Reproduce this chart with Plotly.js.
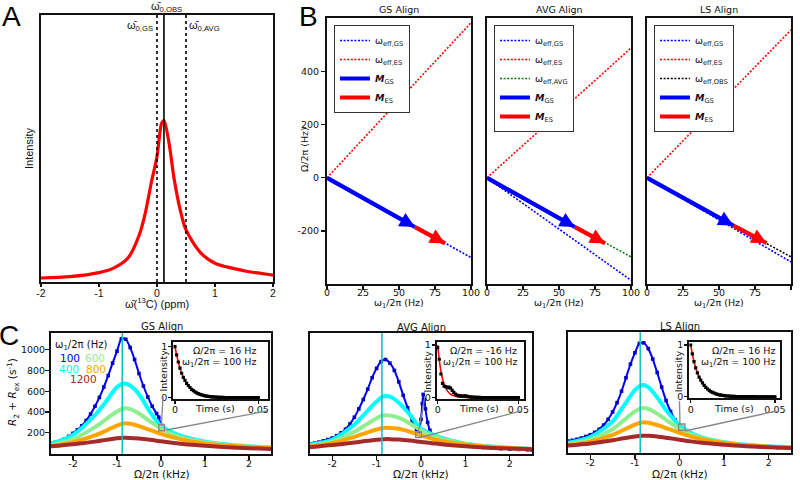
<!DOCTYPE html>
<html><head><meta charset="utf-8">
<script src="https://cdn.plot.ly/plotly-3.0.1.min.js"></script>
<style>html,body{margin:0;padding:0;background:#fff}#chart{width:800px;height:480px}</style>
</head><body><div id="chart"></div>
<script>
// ---------- Panel A : observed line shape ----------
const aShift = [-2,-1.5,-1,-0.75,-0.5,-0.3,-0.2,-0.1,0,0.05,0.08,0.12,0.2,0.3,0.4,0.5,0.75,1,1.5,2];
const aIntensity = [0.015,0.02,0.035,0.052,0.09,0.18,0.26,0.37,0.47,0.56,0.595,0.605,0.53,0.38,0.27,0.195,0.11,0.07,0.042,0.026];
const aRefPositions = [0, 0.12, 0.5];          // ω0,GS  ω0,OBS  ω0,AVG
const aRefDash = ['dot','solid','dot'];
const aTicks = [-2,-1,0,1,2];

// ---------- Panel B : effective fields ----------
const omega1Ends = [0, 100];
const gsEffGS = [0, -300], gsEffES = [0, 584];
const avgEffGS = [0, -386], avgEffES = [0, 489], avgEffAVG = [0, -298];
const lsEffGS = [0, -317], lsEffES = [0, 557], lsEffOBS = [0, -298];
const gsMgsX = [0, 61], gsMgsY = [0, -185], gsMesX = [61, 82], gsMesY = [-185, -247];
const avgMgsX = [0, 61], avgMgsY = [0, -185], avgMesX = [61, 82], avgMesY = [-185, -247];
const lsMgsX = [0, 60], lsMgsY = [0, -180], lsMesX = [60, 83], lsMesY = [-180, -246];
const bXTicks = [0,25,50,75,100], bYTicks = [-200,0,200,400];

// ---------- Panel C : R2 + Rex profiles ----------
const cOffset = [-2.5,-2,-1.5,-1.25,-1,-0.85,-0.7,-0.5,-0.25,0,0.25,0.5,1,1.5,2,2.5];
const gs400 = [95,180,370,500,640,674,655,570,400,265,205,165,115,88,70,58];
const gs600 = [80,140,255,330,405,434,428,385,310,240,185,150,108,85,68,57];
const gs800 = [72,110,175,220,270,290,287,265,228,190,158,132,98,78,64,54];
const gs1200 = [70,90,115,132,147,152,151,145,133,118,104,92,75,62,52,45];
const avg400 = [85,135,280,390,500,550,548,490,375,240,185,145,95,70,55,45];
const avg600 = [75,115,210,275,340,368,366,345,290,225,170,135,92,68,54,45];
const avg800 = [70,100,160,197,232,246,247,238,210,175,143,118,88,66,53,44];
const avg1200 = [62,82,106,120,132,138,139,135,125,112,100,88,70,57,48,42];
const ls400 = [95,150,300,450,600,649,630,530,380,265,190,145,100,75,60,50];
const ls600 = [82,125,225,310,395,427,420,375,300,230,175,140,98,73,58,48];
const ls800 = [72,105,170,220,270,290,287,265,228,190,155,128,93,70,57,47];
const ls1200 = [68,88,118,138,155,162,161,155,140,124,108,95,75,61,51,44];

const gsBlueX = [-2.5,-2.4,-2.3,-2.2,-2.1,-2.0,-1.9,-1.8,-1.7,-1.6,-1.5,-1.4,-1.3,-1.2,-1.1,-1.0,-0.9,-0.8,-0.7,-0.6,-0.5,-0.4,-0.3,-0.2,-0.1,-0.05,0,0.05,0.1,0.2,0.3,0.4,0.5,0.6,0.7,0.8,0.9,1.0,1.2,1.4,1.6,1.8,2.0,2.2,2.4,2.5];
const gsBlueY = [98,108,120,140,165,195,228,268,318,380,455,540,640,750,870,985,1105,1100,1020,905,770,650,545,455,385,350,270,240,222,195,175,160,148,137,128,120,113,107,96,87,79,72,66,60,55,53];
const avgBlueX = [-2.5,-2.4,-2.3,-2.2,-2.1,-2.0,-1.9,-1.8,-1.7,-1.6,-1.5,-1.4,-1.3,-1.2,-1.1,-1.0,-0.9,-0.8,-0.7,-0.6,-0.5,-0.4,-0.3,-0.2,-0.15,-0.1,-0.05,0,0.03,0.05,0.08,0.1,0.15,0.2,0.3,0.4,0.5,0.6,0.7,0.8,0.9,1.0,1.2,1.4,1.6,1.8,2.0,2.2,2.4,2.5];
const avgBlueY = [91,100,110,122,135,150,172,200,235,285,350,430,520,620,730,820,885,905,870,800,690,560,440,320,270,230,215,330,480,569,520,430,300,225,165,130,112,100,92,85,79,74,66,59,53,48,44,40,37,35];
const lsBlueX = [-2.5,-2.4,-2.3,-2.2,-2.1,-2.0,-1.9,-1.8,-1.7,-1.6,-1.5,-1.4,-1.3,-1.2,-1.1,-1.0,-0.9,-0.8,-0.7,-0.6,-0.5,-0.4,-0.3,-0.2,-0.1,0,0.1,0.2,0.3,0.4,0.5,0.6,0.7,0.8,0.9,1.0,1.2,1.4,1.6,1.8,2.0,2.2,2.4,2.5];
const lsBlueY = [110,118,128,140,155,172,195,225,265,320,390,480,590,720,850,960,1050,1055,1000,900,770,630,500,395,315,255,212,180,158,140,127,116,107,99,93,87,77,69,62,57,52,48,45,44];
const esOffset = -0.88;   // vertical cyan line (kHz)
const cXTicks = [-2,-1,0,1,2], cYTicks = [200,400,600,800,1000];
const spinLockLabels = ['100','400','600','800','1200'];
const spinLockColors = ['#0000ff','#00ffff','#90ee90','#ffa500','#a52a2a'];

// ---------- Insets : decays ----------
const insetTime = [0,0.001,0.002,0.003,0.004,0.005,0.006,0.007,0.008,0.009,0.010,0.011,0.012,0.013,0.014,0.015,0.016,0.017,0.018,0.019,0.020,0.021,0.022,0.023,0.024,0.025,0.026,0.027,0.028,0.029,0.030,0.031,0.032,0.033,0.034,0.035,0.036,0.037,0.038,0.039,0.040,0.041,0.042,0.043,0.044,0.045,0.046,0.047,0.048,0.049,0.050];
const gsDecay = [1.0,0.84,0.70,0.58,0.48,0.40,0.34,0.28,0.24,0.20,0.165,0.14,0.115,0.095,0.08,0.065,0.055,0.045,0.038,0.031,0.026,0.021,0.018,0.015,0.012,0.01,0.008,0.007,0.006,0.005,0.004,0.003,0.003,0.002,0.002,0.002,0.001,0.001,0.001,0.001,0.001,0,0,0,0,0,0,0,0,0,0];
const avgDecay = [0.95,0.73,0.45,0.27,0.22,0.21,0.19,0.20,0.18,0.14,0.10,0.07,0.05,0.04,0.035,0.03,0.03,0.035,0.03,0.02,0.015,0.012,0.01,0.008,0.006,0.005,0.004,0.003,0.003,0.002,0.002,0.001,0.001,0.001,0.001,0,0,0,0,0,0,0,0,0,0,0,0,0,0,0,0];
const lsDecay = [1.0,0.83,0.68,0.56,0.46,0.38,0.32,0.27,0.22,0.18,0.15,0.125,0.10,0.085,0.07,0.055,0.046,0.038,0.031,0.025,0.02,0.017,0.014,0.011,0.009,0.007,0.006,0.005,0.004,0.003,0.003,0.002,0.002,0.002,0.001,0.001,0.001,0.001,0.001,0,0,0,0,0,0,0,0,0,0,0,0];
const fitTime = [0,0.001,0.002,0.003,0.004,0.006,0.008,0.010,0.012,0.015,0.020,0.030,0.050];
const gsFit = [1,0.84,0.70,0.58,0.48,0.34,0.24,0.165,0.115,0.065,0.026,0.004,0];
const avgFit = [1,0.72,0.50,0.36,0.25,0.13,0.065,0.035,0.018,0.007,0.002,0,0];
const lsFit = [1,0.83,0.68,0.56,0.46,0.32,0.22,0.15,0.10,0.055,0.02,0.003,0];
const insetOffsets = ['Ω/2π = 16 Hz','Ω/2π = -16 Hz','Ω/2π = 16 Hz'];
const insetField = 'ω<sub>1</sub>/2π = 100 Hz';

// ================= build =================
const W = 800, H = 480;
const px = x => x / W, py = y => 1 - y / H;
const DJ = 'DejaVu Sans', LS = 'Liberation Sans, Arial, sans-serif';
const AX = {showline:true, mirror:true, linecolor:'#111', linewidth:2, ticks:'outside', ticklen:4,
  tickwidth:1.2, tickcolor:'#111', showgrid:false, zeroline:false, fixedrange:true, automargin:false,
  tickfont:{family:DJ, size:9.5, color:'#111'}};
function axis(dom, anchor, extra) { return Object.assign({}, AX, {domain:dom, anchor:anchor}, extra || {}); }
function note(text, x, y, size, extra) {
  return Object.assign({text:text, x:px(x), y:py(y), xref:'paper', yref:'paper', showarrow:false,
    xanchor:'center', yanchor:'middle', font:{family:DJ, size:size, color:'#111'}}, extra || {});
}

const traces = [];
// Panel A
traces.push({type:'scatter', mode:'lines', x:aShift, y:aIntensity, xaxis:'x', yaxis:'y',
  line:{color:'#ff0000', width:3.2, shape:'spline', smoothing:0.8}, showlegend:false});

// Panel B
const dashSty = '2px,1.6px';
function effLine(x, y, name, color, xa, ya, lg) {
  traces.push({type:'scatter', mode:'lines', x:x, y:y, xaxis:xa, yaxis:ya, name:name, legend:lg,
    line:{color:color, width:1.6, dash:dashSty}});
}
function mLine(x, y, name, color, xa, ya, lg) {
  traces.push({type:'scatter', mode:'lines', x:x, y:y, xaxis:xa, yaxis:ya, name:name, legend:lg,
    line:{color:color, width:4}});
}
const nGS = 'ω<sub>eff,GS</sub>', nES = 'ω<sub>eff,ES</sub>';
const nMGS = '<b><i>M</i></b><sub>GS</sub>', nMES = '<b><i>M</i></b><sub>ES</sub>';
effLine(omega1Ends, gsEffGS, nGS, '#0000ff', 'x2','y2','legend');
effLine(omega1Ends, gsEffES, nES, '#ff0000', 'x2','y2','legend');
mLine(gsMgsX, gsMgsY, nMGS, '#0000ff', 'x2','y2','legend');
mLine(gsMesX, gsMesY, nMES, '#ff0000', 'x2','y2','legend');
effLine(omega1Ends, avgEffGS, nGS, '#0000ff', 'x3','y3','legend2');
effLine(omega1Ends, avgEffES, nES, '#ff0000', 'x3','y3','legend2');
effLine(omega1Ends, avgEffAVG, 'ω<sub>eff,AVG</sub>', '#008000', 'x3','y3','legend2');
mLine(avgMgsX, avgMgsY, nMGS, '#0000ff', 'x3','y3','legend2');
mLine(avgMesX, avgMesY, nMES, '#ff0000', 'x3','y3','legend2');
effLine(omega1Ends, lsEffGS, nGS, '#0000ff', 'x4','y4','legend3');
effLine(omega1Ends, lsEffES, nES, '#ff0000', 'x4','y4','legend3');
effLine(omega1Ends, lsEffOBS, 'ω<sub>eff,OBS</sub>', '#000000', 'x4','y4','legend3');
mLine(lsMgsX, lsMgsY, nMGS, '#0000ff', 'x4','y4','legend3');
mLine(lsMesX, lsMesY, nMES, '#ff0000', 'x4','y4','legend3');

// Panel C
const cPanels = [
  {xa:'x5', ya:'y5', bx:gsBlueX, by:gsBlueY, rest:[gs400, gs600, gs800, gs1200]},
  {xa:'x6', ya:'y6', bx:avgBlueX, by:avgBlueY, rest:[avg400, avg600, avg800, avg1200]},
  {xa:'x7', ya:'y7', bx:lsBlueX, by:lsBlueY, rest:[ls400, ls600, ls800, ls1200]}
];
cPanels.forEach(p => {
  traces.push({type:'scatter', mode:'lines+markers', x:p.bx, y:p.by, xaxis:p.xa, yaxis:p.ya, showlegend:false,
    line:{color:spinLockColors[0], width:2, shape:'spline', smoothing:0.6},
    marker:{symbol:'square', size:3.6, color:'#0000c0'}});
  p.rest.forEach((ys, i) => {
    traces.push({type:'scatter', mode:'lines', x:cOffset, y:ys, xaxis:p.xa, yaxis:p.ya, showlegend:false,
      line:{color:spinLockColors[i+1], width:4, shape:'spline', smoothing:0.8}});
  });
});
// Insets
const insets = [
  {xa:'x8', ya:'y8', d:gsDecay, f:gsFit},
  {xa:'x9', ya:'y9', d:avgDecay, f:avgFit},
  {xa:'x10', ya:'y10', d:lsDecay, f:lsFit}
];
insets.forEach(p => {
  traces.push({type:'scatter', mode:'lines', x:fitTime, y:p.f, xaxis:p.xa, yaxis:p.ya, showlegend:false,
    line:{color:'#ff0000', width:1.6, shape:'spline', smoothing:0.5}});
  traces.push({type:'scatter', mode:'markers', x:insetTime, y:p.d, xaxis:p.xa, yaxis:p.ya, showlegend:false,
    marker:{symbol:'square', size:3.2, color:'#000'}});
});

// ---------- layout ----------
const yDomA = [py(282), py(15)], yDomB = [py(284), py(18)];
const yDomC = [py(454), py(333)], yDomC3 = [py(453), py(332)];
const noLab = {showticklabels:false, ticks:''};
const bx = {range:[0,100], tickvals:bXTicks, ticklabelstandoff:-5};
const cx = {range:[-2.5,2.5], tickvals:cXTicks, ticktext:cXTicks.map(String), ticklabelstandoff:-4};
const ix = {tickvals:[0,0.05], ticktext:['0','0.05'], ticklen:3, ticklabelstandoff:-2};
const iy = {tickvals:[0,1], ticktext:['0','1'], ticklen:3, ticklabelstandoff:-1};
const layout = {
  width:W, height:H, margin:{l:0, r:0, t:0, b:0, pad:0},
  paper_bgcolor:'#fff', plot_bgcolor:'#fff', hovermode:false,
  font:{family:DJ, color:'#111'},
  xaxis: axis([px(41), px(273)], 'y', {range:[-2,2], tickvals:aTicks, ticktext:aTicks.map(String), ticklen:3,
    ticklabelstandoff:-3, tickfont:{family:LS, size:10.5, color:'#111'}}),
  yaxis: axis(yDomA, 'x', Object.assign({range:[0,1]}, noLab)),
  xaxis2: axis([px(327), px(471)], 'y2', bx),
  yaxis2: axis(yDomB, 'x2', {range:[-400,602], tickvals:bYTicks, ticktext:bYTicks.map(String)}),
  xaxis3: axis([px(487), px(631)], 'y3', bx),
  yaxis3: axis(yDomB, 'x3', Object.assign({range:[-400,602]}, noLab)),
  xaxis4: axis([px(647), px(791)], 'y4', bx),
  yaxis4: axis(yDomB, 'x4', Object.assign({range:[-400,602]}, noLab)),
  xaxis5: axis([px(51), px(271)], 'y5', cx),
  yaxis5: axis(yDomC, 'x5', {range:[-4,1160], tickvals:cYTicks, ticklabelstandoff:-2}),
  xaxis6: axis([px(310), px(532)], 'y6', cx),
  yaxis6: axis(yDomC, 'x6', Object.assign({range:[-4,1160]}, noLab)),
  xaxis7: axis([px(568), px(791)], 'y7', cx),
  yaxis7: axis(yDomC3, 'x7', Object.assign({range:[-4,1160]}, noLab)),
  xaxis8: axis([px(173.3), px(268.3)], 'y8', Object.assign({range:[-0.001,0.056]}, ix)),
  yaxis8: axis([py(399), py(342.3)], 'x8', Object.assign({range:[-0.025,1.086]}, iy)),
  xaxis9: axis([px(436.7), px(524)], 'y9', Object.assign({range:[-0.0006,0.0535]}, ix)),
  yaxis9: axis([py(399), py(341.7)], 'x9', Object.assign({range:[-0.025,1.063]}, iy)),
  xaxis10: axis([px(689.3), px(780)], 'y10', Object.assign({range:[-0.0008,0.053]}, ix)),
  yaxis10: axis([py(398.3), py(341.7)], 'x10', Object.assign({range:[-0.03,1.064]}, iy)),
  showlegend:true
};
const legendStyle = {xanchor:'left', yanchor:'top', bgcolor:'#fff', bordercolor:'#333', borderwidth:1,
  font:{family:DJ, size:9.5, color:'#111'}, tracegroupgap:0, itemwidth:30};
layout.legend = Object.assign({x:px(334), y:py(25)}, legendStyle);
layout.legend2 = Object.assign({x:px(494), y:py(25)}, legendStyle);
layout.legend3 = Object.assign({x:px(654), y:py(25)}, legendStyle);

// shapes
const shapes = [];
aRefPositions.forEach((v, i) => shapes.push({type:'line', xref:'x', yref:'y domain', x0:v, x1:v, y0:0, y1:1,
  line:{color:'#000', width:1.6, dash:aRefDash[i]}}));
['5','6','7'].forEach(n => shapes.push({type:'line', xref:'x'+n, yref:'y'+n+' domain', x0:esOffset, x1:esOffset,
  y0:0, y1:1, line:{color:'#17bfc4', width:1.6}}));
const zoomBoxes = [
  {n:'5', x:[-0.05,0.08], y:[220,280]},
  {n:'6', x:[-0.12,0.01], y:[155,210]},
  {n:'7', x:[-0.02,0.12], y:[215,275]}
];
zoomBoxes.forEach(b => shapes.push({type:'rect', xref:'x'+b.n, yref:'y'+b.n, x0:b.x[0], x1:b.x[1], y0:b.y[0], y1:b.y[1],
  line:{color:'#888', width:1.4}}));
const connectors = [
  [161.5,424,163,397],[166.5,430,267,411],
  [418.3,432,425,396],[422.3,437,520.7,411],
  [680,425,679.5,401],[685,431,776.7,411]
];
connectors.forEach(c => shapes.push({type:'line', xref:'paper', yref:'paper', x0:px(c[0]), y0:py(c[1]), x1:px(c[2]), y1:py(c[3]),
  line:{color:'#888', width:1.3}}));
layout.shapes = shapes;

// annotations
const ann = [];
ann.push(note('A', 11, 17, 28, {font:{family:LS, size:28, color:'#000'}}));
ann.push(note('B', 308, 17, 28, {font:{family:LS, size:28, color:'#000'}}));
ann.push(note('C', 9, 335, 28, {font:{family:LS, size:28, color:'#000'}}));
const aFont = {family:LS, size:11, color:'#111'};
ann.push(note('ω\u0304<sub>0,OBS</sub>', 166, 7, 11, {font:aFont}));
ann.push(note('ω\u0304<sub>0,GS</sub>', 155, 26, 11, {font:aFont, xanchor:'right'}));
ann.push(note('ω\u0304<sub>0,AVG</sub>', 187, 26, 11, {font:aFont, xanchor:'left'}));
ann.push(note('ω\u0304(<sup>13</sup>C) (ppm)', 157, 303, 11, {font:aFont}));
ann.push(note('Intensity', 29, 148, 11, {font:aFont, textangle:-90}));
[['GS Align',399],['AVG Align',559],['LS Align',719]].forEach(t => {
  ann.push(note(t[0], t[1], 9, 9.5));
  ann.push(note('ω<sub>1</sub>/2π (Hz)', t[1], 303, 9.5));
});
ann.push(note('Ω/2π (Hz)', 304, 150, 9.5, {textangle:-90}));
[['x2','y2',gsMgsX,gsMgsY,gsMesX,gsMesY],['x3','y3',avgMgsX,avgMgsY,avgMesX,avgMesY],['x4','y4',lsMgsX,lsMgsY,lsMesX,lsMesY]].forEach(a => {
  [[a[2],a[3],'#0000ff'],[a[4],a[5],'#ff0000']].forEach(v => ann.push({
    xref:a[0], yref:a[1], axref:a[0], ayref:a[1], x:v[0][1], y:v[1][1], ax:v[0][0], ay:v[1][0],
    text:'', showarrow:true, arrowhead:2, arrowsize:0.75, arrowwidth:4, arrowcolor:v[2], standoff:0, startstandoff:0}));
});
[['GS Align',162,326],['AVG Align',421,327],['LS Align',680,326]].forEach(t => {
  ann.push(note(t[0], t[1], t[2], 10));
  ann.push(note('Ω/2π (kHz)', t[1], 474, 10.5));
});
ann.push(note('<i>R</i><sub>2</sub> + <i>R</i><sub>ex</sub> (s<sup>-1</sup>)', 13, 392, 10.5, {textangle:-90}));
ann.push(note('ω<sub>1</sub>/2π (Hz)', 81, 345, 10));
const legPos = [[70,358],[69,369],[95,358],[95.5,369],[83.5,379]];
spinLockLabels.forEach((s, i) => ann.push(note(s, legPos[i][0], legPos[i][1], 10.5,
  {font:{family:DJ, size:10.5, color:spinLockColors[i]}})));
[[258,215,163,370.5],[519,479,427,371.5],[776.7,734,678.3,371]].forEach((p, i) => {
  ann.push(note(insetOffsets[i], p[0], 350, 9.5, {xanchor:'right'}));
  ann.push(note(insetField, p[0], 362.5, 9.5, {xanchor:'right'}));
  ann.push(note('Time (s)', p[1], 408, 9.5));
  ann.push(note('Intensity', p[2], p[3], 9.5, {textangle:-90}));
});
layout.annotations = ann;

Plotly.newPlot('chart', traces, layout, {staticPlot:true, displayModeBar:false});
</script>
</body></html>
